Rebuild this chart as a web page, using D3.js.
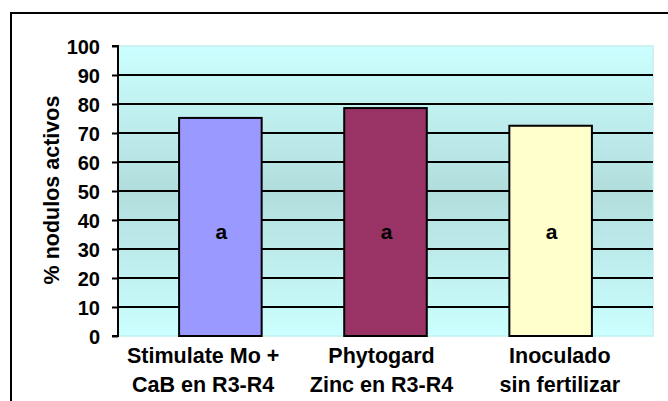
<!DOCTYPE html>
<html><head><meta charset="utf-8">
<script src="https://cdn.jsdelivr.net/npm/d3@7"></script>
<style>html,body{margin:0;padding:0;background:#fff;}svg{display:block;}</style>
</head><body>
<svg id="chart" width="668" height="401"></svg>
<script>
const categories = [["Stimulate Mo +", "CaB en R3-R4"], ["Phytogard", "Zinc en R3-R4"], ["Inoculado", "sin fertilizar"]];
const values = [75.2, 78.6, 72.5];
const letters = ["a", "a", "a"];
const letterLevel = 36;
const colors = ["#9999FF", "#993366", "#FFFFCC"];
const yTicks = [0, 10, 20, 30, 40, 50, 60, 70, 80, 90, 100];
const yTitle = "% nodulos activos";

const svg = d3.select("#chart");
const font = "'Liberation Sans', Arial, sans-serif";
const L = 118, R = 653, T = 46, B = 336;

// outer frame
svg.append("rect").attr("x", 11).attr("y", 13).attr("width", 720).attr("height", 460)
  .attr("fill", "none").attr("stroke", "#000").attr("stroke-width", 2);

const defs = svg.append("defs");
const grad = defs.append("linearGradient").attr("id", "bg").attr("x1", 0).attr("x2", 0).attr("y1", 0).attr("y2", 1);
grad.append("stop").attr("offset", "0%").attr("stop-color", "#CCFFFF");
grad.append("stop").attr("offset", "50%").attr("stop-color", "#B2DDDD");
grad.append("stop").attr("offset", "100%").attr("stop-color", "#CCFFFF");

const y = d3.scaleLinear().domain([0, 100]).range([B, T]);
const idx = categories.map((d, i) => i);
const xFull = d3.scaleBand().domain(idx).range([L, R]);
const x = d3.scaleBand().domain(idx).range([L, R]).paddingInner(0.5).paddingOuter(0.37);

svg.append("rect").attr("x", L).attr("y", T).attr("width", R - L).attr("height", B - T)
  .attr("fill", "url(#bg)").attr("stroke", "#c4eeee").attr("stroke-width", 1.5);

// gridlines
svg.append("g").selectAll("line").data(yTicks.filter(t => t > 0 && t < 100)).join("line")
  .attr("x1", L).attr("x2", R).attr("y1", d => y(d)).attr("y2", d => y(d))
  .attr("stroke", "#000").attr("stroke-width", 2);

// y axis
const yAxis = d3.axisLeft(y).tickValues(yTicks).tickSize(6).tickPadding(12).tickFormat(d3.format("d"));
const gy = svg.append("g").attr("transform", `translate(${L},0)`).call(yAxis);
gy.select(".domain").attr("stroke", "#000").attr("stroke-width", 2).attr("d", `M-6,${T}H0V${B}H-6`);
gy.selectAll(".tick line").attr("stroke", "#000").attr("stroke-width", 2);
gy.selectAll(".tick text").attr("font-family", font).attr("font-size", 20).attr("font-weight", "bold")
  .attr("fill", "#000").attr("dy", "0.36em");

// bars
svg.append("g").selectAll("rect").data(values).join("rect")
  .attr("x", (d, i) => x(i)).attr("width", x.bandwidth())
  .attr("y", d => y(d)).attr("height", d => y(0) - y(d))
  .attr("fill", (d, i) => colors[i]).attr("stroke", "#000").attr("stroke-width", 2);

// letters
svg.append("g").selectAll("text").data(values).join("text")
  .attr("x", (d, i) => x(i) + x.bandwidth() / 2 + 1)
  .attr("y", y(letterLevel) + 7)
  .attr("text-anchor", "middle").attr("font-family", font).attr("font-size", 21).attr("font-weight", "bold")
  .text((d, i) => letters[i]);

// x labels
const xl = svg.append("g").selectAll("text").data(categories).join("text")
  .attr("text-anchor", "middle").attr("font-family", font).attr("font-size", 21.5).attr("font-weight", "bold");
xl.each(function(d, i) {
  const t = d3.select(this);
  d.forEach((line, j) => {
    t.append("tspan").attr("x", xFull(i) + xFull.bandwidth() / 2 - 4).attr("y", 363 + j * 29).text(line);
  });
});

// y title
svg.append("text").attr("transform", `translate(59,${(T + B) / 2 - 1}) rotate(-90)`)
  .attr("text-anchor", "middle").attr("font-family", font).attr("font-size", 21.5).attr("font-weight", "bold")
  .text(yTitle);
</script>
</body></html>
